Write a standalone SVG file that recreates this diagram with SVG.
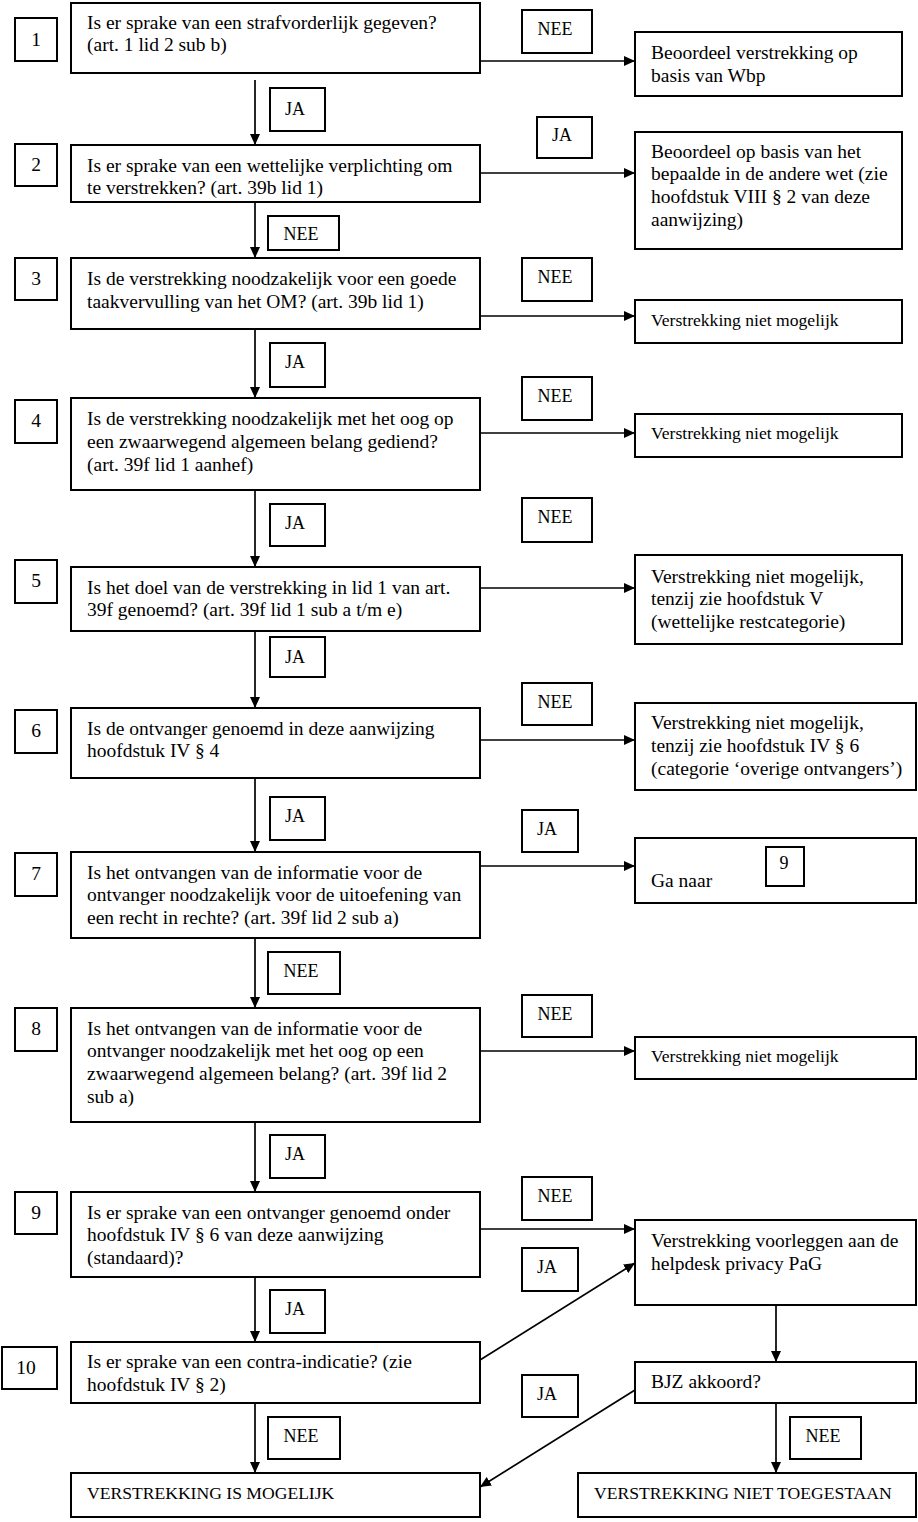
<svg xmlns="http://www.w3.org/2000/svg" width="918" height="1522" viewBox="0 0 918 1522">
<style>
rect{fill:#fff;stroke:#000;stroke-width:2}
text{font-family:"Liberation Serif","Times New Roman",serif;font-size:19.5px;fill:#000}
.s{font-size:17.6px}
.c{text-anchor:middle}
.l{font-size:18px;text-anchor:middle}
.cn path{fill:none;stroke:#000;stroke-width:1.7;marker-end:url(#ah)}
</style>
<defs>
<marker id="ah" markerUnits="userSpaceOnUse" markerWidth="12" markerHeight="10" refX="11" refY="5" orient="auto">
<path d="M0,0 L11,5 L0,10 Z" fill="#000"/>
</marker>
</defs>
<rect x="0" y="0" width="918" height="1522" style="stroke:none"/>

<g class="cn" id="connectors">
<path d="M255,80 V145"/>
<path d="M255,202 V258"/>
<path d="M255,329 V398"/>
<path d="M255,490 V567"/>
<path d="M255,631 V708"/>
<path d="M255,778 V852"/>
<path d="M255,938 V1008"/>
<path d="M255,1122 V1192"/>
<path d="M255,1277 V1342"/>
<path d="M255,1403 V1473"/>
<path d="M480,61 H635"/>
<path d="M480,173 H635"/>
<path d="M480,316 H635"/>
<path d="M480,433 H635"/>
<path d="M480,588 H635"/>
<path d="M480,740 H635"/>
<path d="M480,866 H635"/>
<path d="M480,1051 H635"/>
<path d="M480,1229 H635"/>
<path d="M480,1360 L635,1263"/>
<path d="M635,1390 L480,1487"/>
<path d="M776,1305 V1362"/>
<path d="M776,1403 V1473"/>
</g>

<g id="labels">
<g id="lbl-ja-1-2"><rect x="270" y="88" width="55" height="43"/><text class="l" x="295" y="115">JA</text></g>
<g id="lbl-nee-2-3"><rect x="268" y="216" width="71" height="34"/><text class="l" x="301" y="240">NEE</text></g>
<g id="lbl-ja-3-4"><rect x="270" y="343" width="55" height="44"/><text class="l" x="295" y="368">JA</text></g>
<g id="lbl-ja-4-5"><rect x="270" y="504" width="55" height="42"/><text class="l" x="295" y="529">JA</text></g>
<g id="lbl-ja-5-6"><rect x="270" y="637" width="55" height="40"/><text class="l" x="295" y="663">JA</text></g>
<g id="lbl-ja-6-7"><rect x="270" y="797" width="55" height="43"/><text class="l" x="295" y="822">JA</text></g>
<g id="lbl-nee-7-8"><rect x="268" y="952" width="72" height="42"/><text class="l" x="301" y="977">NEE</text></g>
<g id="lbl-ja-8-9"><rect x="270" y="1135" width="55" height="43"/><text class="l" x="295" y="1160">JA</text></g>
<g id="lbl-ja-9-10"><rect x="270" y="1290" width="55" height="43"/><text class="l" x="295" y="1315">JA</text></g>
<g id="lbl-nee-10"><rect x="268" y="1417" width="72" height="42"/><text class="l" x="301" y="1442">NEE</text></g>
<g id="lbl-nee-bjz"><rect x="790" y="1417" width="71" height="42"/><text class="l" x="823" y="1442">NEE</text></g>
<g id="lbl-nee-1"><rect x="522" y="10" width="70" height="43"/><text class="l" x="555" y="35">NEE</text></g>
<g id="lbl-ja-2"><rect x="537" y="117" width="55" height="41"/><text class="l" x="562" y="141">JA</text></g>
<g id="lbl-nee-3"><rect x="522" y="258" width="70" height="43"/><text class="l" x="555" y="283">NEE</text></g>
<g id="lbl-nee-4"><rect x="522" y="377" width="70" height="43"/><text class="l" x="555" y="402">NEE</text></g>
<g id="lbl-nee-5"><rect x="522" y="498" width="70" height="44"/><text class="l" x="555" y="523">NEE</text></g>
<g id="lbl-nee-6"><rect x="522" y="683" width="70" height="42"/><text class="l" x="555" y="708">NEE</text></g>
<g id="lbl-ja-7"><rect x="522" y="810" width="56" height="42"/><text class="l" x="547" y="835">JA</text></g>
<g id="lbl-nee-8"><rect x="522" y="995" width="70" height="42"/><text class="l" x="555" y="1020">NEE</text></g>
<g id="lbl-nee-9"><rect x="522" y="1177" width="70" height="43"/><text class="l" x="555" y="1202">NEE</text></g>
<g id="lbl-ja-10"><rect x="522" y="1248" width="56" height="43"/><text class="l" x="547" y="1273">JA</text></g>
<g id="lbl-ja-bjz"><rect x="522" y="1375" width="56" height="42"/><text class="l" x="547" y="1400">JA</text></g>
</g>

<g id="num1"><rect x="15" y="18" width="42" height="43"/><text class="c" x="36" y="46">1</text></g>
<g id="num2"><rect x="15" y="144" width="42" height="42"/><text class="c" x="36" y="171">2</text></g>
<g id="num3"><rect x="15" y="258" width="42" height="42"/><text class="c" x="36" y="285">3</text></g>
<g id="num4"><rect x="15" y="400" width="42" height="43"/><text class="c" x="36" y="427">4</text></g>
<g id="num5"><rect x="15" y="560" width="42" height="43"/><text class="c" x="36" y="587">5</text></g>
<g id="num6"><rect x="15" y="710" width="42" height="43"/><text class="c" x="36" y="737">6</text></g>
<g id="num7"><rect x="15" y="853" width="42" height="43"/><text class="c" x="36" y="880">7</text></g>
<g id="num8"><rect x="15" y="1008" width="42" height="43"/><text class="c" x="36" y="1035">8</text></g>
<g id="num9"><rect x="15" y="1192" width="42" height="42"/><text class="c" x="36" y="1219">9</text></g>
<g id="num10"><rect x="2" y="1347" width="55" height="42"/><text class="c" x="26" y="1374">10</text></g>

<g id="q1"><rect x="71" y="3" width="409" height="70"/>
<text x="87" y="29">Is er sprake van een strafvorderlijk gegeven?</text>
<text x="87" y="51">(art. 1 lid 2 sub b)</text></g>
<g id="q2"><rect x="71" y="145" width="409" height="57"/>
<text x="87" y="172">Is er sprake van een wettelijke verplichting om</text>
<text x="87" y="194">te verstrekken? (art. 39b lid 1)</text></g>
<g id="q3"><rect x="71" y="258" width="409" height="71"/>
<text x="87" y="285">Is de verstrekking noodzakelijk voor een goede</text>
<text x="87" y="308">taakvervulling van het OM? (art. 39b lid 1)</text></g>
<g id="q4"><rect x="71" y="398" width="409" height="92"/>
<text x="87" y="425">Is de verstrekking noodzakelijk met het oog op</text>
<text x="87" y="448">een zwaarwegend algemeen belang gediend?</text>
<text x="87" y="471">(art. 39f lid 1 aanhef)</text></g>
<g id="q5"><rect x="71" y="567" width="409" height="64"/>
<text x="87" y="594">Is het doel van de verstrekking in lid 1 van art.</text>
<text x="87" y="616">39f genoemd? (art. 39f lid 1 sub a t/m e)</text></g>
<g id="q6"><rect x="71" y="708" width="409" height="70"/>
<text x="87" y="735">Is de ontvanger genoemd in deze aanwijzing</text>
<text x="87" y="757">hoofdstuk IV § 4</text></g>
<g id="q7"><rect x="71" y="852" width="409" height="86"/>
<text x="87" y="879">Is het ontvangen van de informatie voor de</text>
<text x="87" y="901">ontvanger noodzakelijk voor de uitoefening van</text>
<text x="87" y="924">een recht in rechte? (art. 39f lid 2 sub a)</text></g>
<g id="q8"><rect x="71" y="1008" width="409" height="114"/>
<text x="87" y="1035">Is het ontvangen van de informatie voor de</text>
<text x="87" y="1057">ontvanger noodzakelijk met het oog op een</text>
<text x="87" y="1080">zwaarwegend algemeen belang? (art. 39f lid 2</text>
<text x="87" y="1103">sub a)</text></g>
<g id="q9"><rect x="71" y="1192" width="409" height="85"/>
<text x="87" y="1219">Is er sprake van een ontvanger genoemd onder</text>
<text x="87" y="1241">hoofdstuk IV § 6 van deze aanwijzing</text>
<text x="87" y="1264">(standaard)?</text></g>
<g id="q10"><rect x="71" y="1342" width="409" height="61"/>
<text x="87" y="1368">Is er sprake van een contra-indicatie? (zie</text>
<text x="87" y="1391">hoofdstuk IV § 2)</text></g>
<g id="final-ok"><rect x="71" y="1473" width="409" height="44"/>
<text class="s" x="87" y="1499">VERSTREKKING IS MOGELIJK</text></g>

<g id="r1"><rect x="635" y="32" width="267" height="64"/>
<text x="651" y="59">Beoordeel verstrekking op</text>
<text x="651" y="82">basis van Wbp</text></g>
<g id="r2"><rect x="635" y="132" width="267" height="117"/>
<text x="651" y="158">Beoordeel op basis van het</text>
<text x="651" y="180">bepaalde in de andere wet (zie</text>
<text x="651" y="203">hoofdstuk VIII § 2 van deze</text>
<text x="651" y="226">aanwijzing)</text></g>
<g id="r3"><rect x="635" y="300" width="267" height="43"/>
<text class="s" x="651" y="326">Verstrekking niet mogelijk</text></g>
<g id="r4"><rect x="635" y="414" width="267" height="43"/>
<text class="s" x="651" y="439">Verstrekking niet mogelijk</text></g>
<g id="r5"><rect x="635" y="555" width="267" height="89"/>
<text x="651" y="583">Verstrekking niet mogelijk,</text>
<text x="651" y="605">tenzij zie hoofdstuk V</text>
<text x="651" y="628">(wettelijke restcategorie)</text></g>
<g id="r6"><rect x="635" y="703" width="281" height="87"/>
<text x="651" y="729">Verstrekking niet mogelijk,</text>
<text x="651" y="752">tenzij zie hoofdstuk IV § 6</text>
<text x="651" y="775">(categorie ‘overige ontvangers’)</text></g>
<g id="r7"><rect x="635" y="838" width="281" height="65"/>
<text x="651" y="887">Ga naar</text>
<rect x="766" y="847" width="38" height="39"/>
<text class="l" x="784" y="869">9</text></g>
<g id="r8"><rect x="635" y="1037" width="281" height="42"/>
<text class="s" x="651" y="1062">Verstrekking niet mogelijk</text></g>
<g id="r9"><rect x="635" y="1220" width="281" height="85"/>
<text x="651" y="1247">Verstrekking voorleggen aan de</text>
<text x="651" y="1270">helpdesk privacy PaG</text></g>
<g id="bjz"><rect x="635" y="1362" width="281" height="41"/>
<text x="651" y="1388">BJZ akkoord?</text></g>
<g id="final-no"><rect x="578" y="1473" width="338" height="44"/>
<text class="s" x="594" y="1499">VERSTREKKING NIET TOEGESTAAN</text></g>
</svg>
